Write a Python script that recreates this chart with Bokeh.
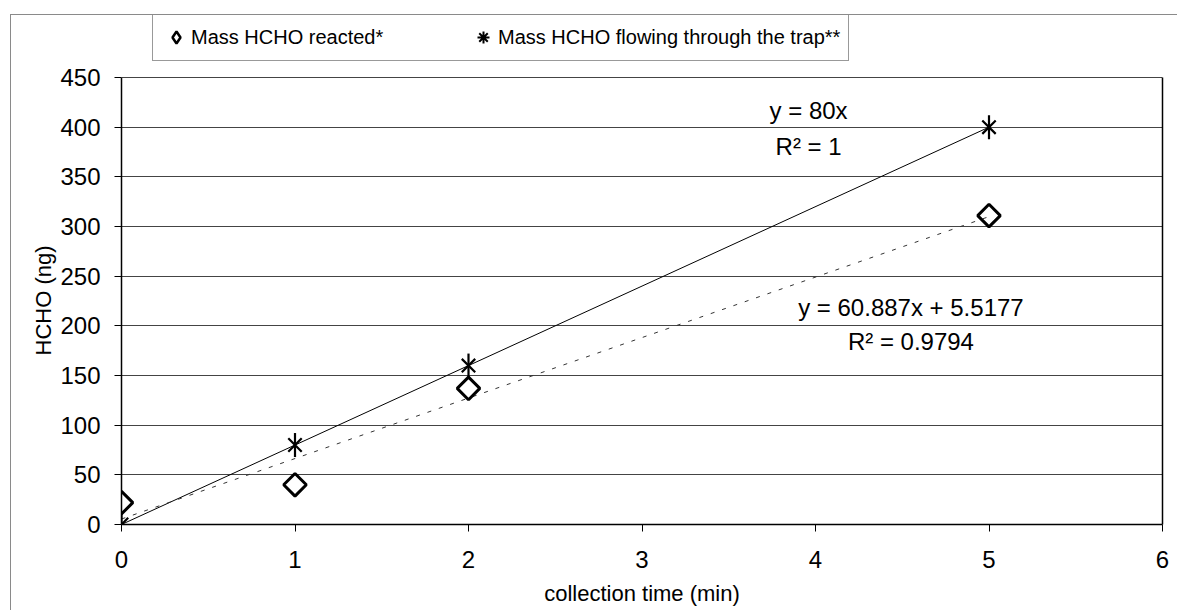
import numpy as np
from bokeh.plotting import figure
from bokeh.models import (Range1d, FixedTicker, Label, Legend, LegendItem,
                          LinearAxis, Title)
from bokeh.embed import file_html
from bokeh.resources import INLINE

# ---- data ----
time_min = [0, 1, 2, 5]
reacted_ng = [22, 40, 137, 311]
flowing_ng = [0, 80, 160, 400]
fit_reacted = [60.887, 5.5177]   # slope, intercept
fit_flowing = [80.0, 0.0]
x_ticks = [0, 1, 2, 3, 4, 5, 6]
y_ticks = [0, 50, 100, 150, 200, 250, 300, 350, 400, 450]
legend_labels = ["Mass HCHO reacted*", "Mass HCHO flowing through the trap**"]

FONT = "Liberation Sans"

# ---- layout (canvas is offset by (11, 15) px; the CSS border draws the outer chart frame)
OX, OY = 11, 15
W, H = 1178 - OX, 611 - OY
BL, BR, BB = 121 - OX, 16, 87
FRAME_H = H - BB            # frame spans from canvas top to the x axis
PLOT_TOP = 77 - OY          # canvas y of the top gridline
y_max = y_ticks[-1] * FRAME_H / (FRAME_H - PLOT_TOP)

p = figure(width=W, height=H, x_range=Range1d(x_ticks[0], x_ticks[-1]),
           y_range=Range1d(y_ticks[0], y_max),
           output_backend="svg", toolbar_location=None,
           min_border_left=BL, min_border_right=BR,
           min_border_top=0, min_border_bottom=BB)
p.styles = {"margin-left": "10px", "margin-top": "14px",
            "border-left": "1px solid #8a8a8a", "border-top": "1px solid #8a8a8a"}
p.background_fill_color = "white"
p.border_fill_color = "white"
p.outline_line_color = None

for ax in (p.xaxis[0], p.yaxis[0]):
    ax.major_label_text_font = FONT
    ax.major_label_text_font_size = "24px"
    ax.major_label_text_color = "black"
    ax.axis_label_text_font = FONT
    ax.axis_label_text_font_size = "22px"
    ax.axis_label_text_font_style = "normal"
    ax.axis_label_text_color = "black"
    ax.axis_line_color = "black"
    ax.axis_line_width = 1.5
    ax.major_tick_line_color = "black"
    ax.major_tick_in = 0
    ax.major_tick_out = 7
    ax.minor_tick_line_color = None

p.xaxis.ticker = FixedTicker(ticks=x_ticks)
p.yaxis.ticker = FixedTicker(ticks=y_ticks)
p.yaxis.bounds = (y_ticks[0], y_ticks[-1])
p.xaxis.axis_label = "collection time (min)"
p.xaxis.major_label_standoff = 19
p.xaxis.axis_label_standoff = 10
p.yaxis.major_label_standoff = 14

# right border of the plot area
rax = LinearAxis(ticker=FixedTicker(ticks=[]), bounds=(y_ticks[0], y_ticks[-1]),
                 axis_line_color="black", axis_line_width=1.5,
                 major_tick_line_color=None, minor_tick_line_color=None,
                 major_label_standoff=0, major_tick_out=0, major_tick_in=0)
p.add_layout(rax, "right")

# y axis title, centred on the plot area
p.add_layout(Title(text="HCHO (ng)", align="left", offset=169, text_font=FONT,
                   text_font_size="22px", text_font_style="normal",
                   text_color="black", standoff=4), "left")

p.xgrid.grid_line_color = None
p.ygrid.grid_line_color = "#444444"
p.ygrid.grid_line_width = 1

# trend lines
xf = np.array([min(time_min), max(time_min)], dtype=float)
p.line(xf, fit_flowing[0] * xf + fit_flowing[1], line_color="black", line_width=1)
p.line(xf, fit_reacted[0] * xf + fit_reacted[1], line_color="#333333", line_width=1,
       line_dash="4 8")

# markers
p.scatter(time_min, reacted_ng, marker="square", angle=np.pi / 4, size=16,
          fill_color=None, line_color="black", line_width=3)
p.scatter(time_min, flowing_ng, marker="x", size=19, line_color="black", line_width=2.2)
p.scatter(time_min, flowing_ng, marker="dash", angle=np.pi / 2, size=24,
          line_color="black", line_width=2.2)

# legend glyph proxies (legend glyphs are drawn unrotated); hidden on the plot itself
lg_dia = p.scatter(time_min, reacted_ng, marker="diamond", fill_color=None,
                   line_color="black", line_width=2.5, visible=False)
lg_star = p.scatter(time_min, flowing_ng, marker="asterisk", line_color="black",
                    line_width=2, visible=False)

# annotations
for (tx, ty, t) in [(3.96, 417, "y = 80x"), (3.96, 381, "R\u00b2 = 1"),
                    (4.55, 218, "y = 60.887x + 5.5177"), (4.55, 184, "R\u00b2 = 0.9794")]:
    p.add_layout(Label(x=tx, y=ty, text=t, text_align="center", text_baseline="middle",
                       text_font=FONT, text_font_size="24px", text_color="black"))

LEG_H = 46
legend = Legend(items=[LegendItem(label=legend_labels[0], renderers=[lg_dia]),
                       LegendItem(label=legend_labels[1], renderers=[lg_star])],
                orientation="horizontal", location=(152 - OX - BL, FRAME_H - LEG_H),
                padding=8, margin=0, spacing=7,
                glyph_width=30, glyph_height=30, label_standoff=0,
                label_width=270, label_height=30,
                label_text_font=FONT, label_text_font_size="20px",
                label_text_color="black",
                border_line_color="#333333", border_line_width=1,
                background_fill_color="white", background_fill_alpha=1,
                inactive_fill_alpha=0)
p.add_layout(legend, "center")

open("out.html", "w").write(file_html(p, INLINE))
